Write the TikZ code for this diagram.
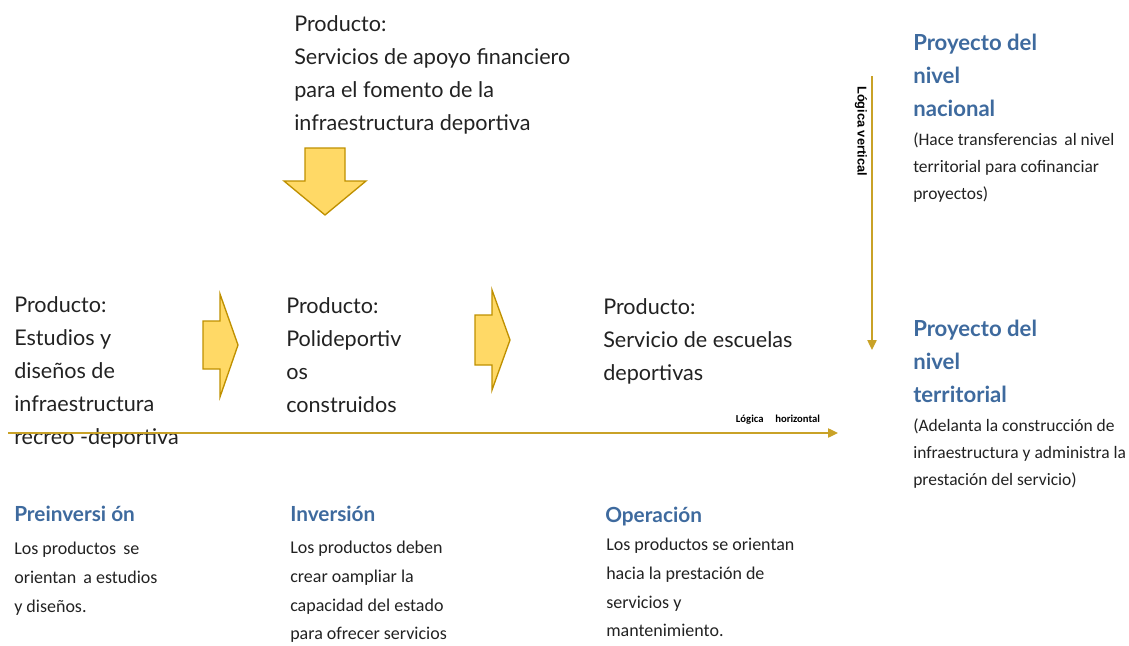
\documentclass[tikz,border=0pt]{standalone}
\usepackage{fontspec}
\setmainfont{Lato}
\newfontfamily\narrowfont{Carlito}
\newfontfamily\arialfont{Liberation Sans}
\usetikzlibrary{arrows.meta,positioning}
\definecolor{gold}{HTML}{C9A227}
\definecolor{arrowfill}{HTML}{FFD966}
\definecolor{arrowline}{HTML}{BF9000}
\definecolor{titleblue}{HTML}{3E6A9E}
\definecolor{bodytext}{HTML}{222222}

\begin{document}
\begin{tikzpicture}[x=0.75pt, y=-0.75pt,
  prod/.style={anchor=north west, inner sep=0pt, align=left,
    font=\fontsize{16.2}{24.9}\selectfont, text=bodytext},
  head/.style={anchor=north west, inner sep=0pt, align=left,
    font=\bfseries\fontsize{16.6}{24.75}\selectfont, text=titleblue},
  stagehead/.style={head, font=\bfseries\fontsize{15.6}{24.75}\selectfont},
  note/.style={anchor=north west, inner sep=0pt, align=left,
    font=\narrowfont\fontsize{13.5}{21.5}\selectfont, text=bodytext},
  levelnote/.style={note, font=\narrowfont\fontsize{13.1}{20.6}\selectfont},
  blockarrow/.style={fill=arrowfill, draw=arrowline, line width=1pt},
  logic/.style={draw=gold, line width=1pt, -{Triangle[length=7.5pt,width=7pt]}},
  logiclabel/.style={font=\narrowfont\bfseries\fontsize{8}{9}\selectfont, inner sep=0pt}]
\useasboundingbox (0,0) rectangle (1129,646);

% Products
\node[prod] (finprod) at (294,15)
  {Producto:\\Servicios de apoyo financiero\\para el fomento de la\\infraestructura deportiva};
\node[prod] (estprod) at (14,296)
  {Producto:\\Estudios y\\diseños de\\infraestructura\\recreo -deportiva};
\node[prod] (poliprod) at (286,297)
  {Producto:\\Polideportiv\\os\\construidos};
\node[prod] (escprod) at (603,298)
  {Producto:\\Servicio de escuelas\\deportivas};

% Block arrows
\draw[blockarrow] (305,148) -- (345,148) -- (345,181) -- (366,181)
  -- (325,215) -- (284,181) -- (305,181) -- cycle;
\draw[blockarrow] (203,321) -- (220,321) -- (220,294) -- (238,345)
  -- (220,397) -- (220,369) -- (203,369) -- cycle;
\draw[blockarrow] (475,315) -- (492,315) -- (492,290) -- (510,340)
  -- (492,390) -- (492,365) -- (475,365) -- cycle;

% Horizontal logic
\coordinate (hstart) at (8,433);
\coordinate (hend) at (838,433);
\draw[logic] (hstart) -- (hend);
\node[logiclabel] (hlabel) at (778,420) {Lógica\hspace{1.1em}horizontal};

% Vertical logic
\coordinate (vstart) at (872,76);
\coordinate (vend) at (872,350);
\draw[logic] (vstart) -- (vend);
\node[logiclabel, font=\arialfont\bfseries\fontsize{9.6}{10}\selectfont, rotate=-90]
  (vlabel) at (861,131) {Lógica vertical};

% Project levels
\node[head] (nacional) at (913,34) {Proyecto del\\nivel\\nacional};
\node[levelnote] (nacnote) at (913,132)
  {(Hace transferencias\, al nivel\\territorial para cofinanciar\\proyectos)};
\node[head] (territorial) at (913,320) {Proyecto del\\nivel\\territorial};
\node[levelnote] (ternote) at (913,418)
  {(Adelanta la construcción de\\infraestructura y administra la\\prestación del servicio)};

% Stages
\node[stagehead] (preinv) at (14,506) {Preinversi ón};
\node[note] (preinvnote) at (14,542)
  {Los productos\, se\\orientan\, a estudios\\y diseños.};
\node[stagehead] (inv) at (290,506) {Inversión};
\node[note] (invnote) at (290,541)
  {Los productos deben\\crear oampliar la\\capacidad del estado\\para ofrecer servicios};
\node[stagehead] (oper) at (605,507) {Operación};
\node[note] (opernote) at (606,538)
  {Los productos se orientan\\hacia la prestación de\\servicios y\\mantenimiento.};
\end{tikzpicture}
\end{document}
